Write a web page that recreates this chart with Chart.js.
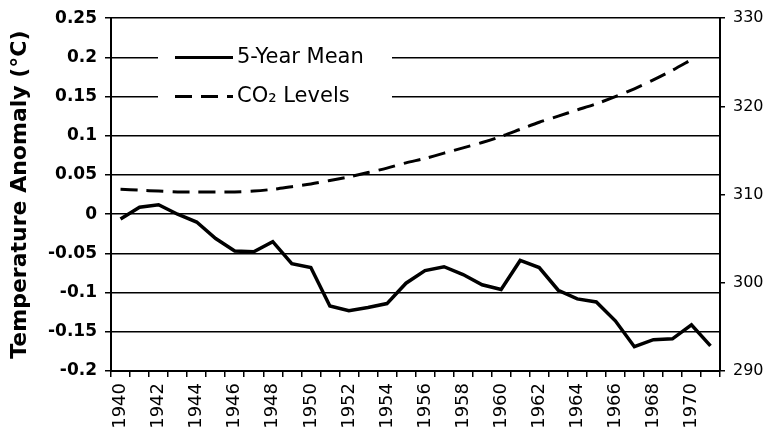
<!DOCTYPE html>
<html>
<head>
<meta charset="utf-8">
<title>Temperature anomaly and CO2</title>
<script src="https://cdn.jsdelivr.net/npm/chart.js@4.4.0/dist/chart.umd.min.js"></script>
<style>
    html, body { margin: 0; padding: 0; background: #fff; }
    #wrap { width: 770px; height: 443px; }
</style>
</head>
<body>
<div id="wrap"><canvas id="chart"></canvas></div>
<script>
// Data
const years = ['1940', '1941', '1942', '1943', '1944', '1945', '1946', '1947', '1948', '1949',
    '1950', '1951', '1952', '1953', '1954', '1955', '1956', '1957', '1958', '1959',
    '1960', '1961', '1962', '1963', '1964', '1965', '1966', '1967', '1968', '1969',
    '1970', '1971'];

const fiveYearMean = [-0.006, 0.009, 0.012, 0.0, -0.010, -0.031, -0.047, -0.048, -0.035, -0.063,
    -0.068, -0.117, -0.123, -0.119, -0.114, -0.088, -0.072, -0.067, -0.077, -0.090,
    -0.096, -0.059, -0.068, -0.097, -0.108, -0.112, -0.136, -0.169, -0.160, -0.159,
    -0.141, -0.168];

const co2Levels = [310.6, 310.5, 310.4, 310.3, 310.3, 310.3, 310.3, 310.4, 310.6, 310.9,
    311.2, 311.6, 312.0, 312.5, 313.0, 313.6, 314.1, 314.7, 315.3, 315.9,
    316.6, 317.4, 318.2, 318.9, 319.6, 320.3, 321.1, 322.0, 323.0, 324.1,
    325.3, null];

const tempTicks = ['-0.2', '-0.15', '-0.1', '-0.05', '0', '0.05', '0.1', '0.15', '0.2', '0.25'];
const co2Ticks = ['290', '300', '310', '320', '330'];

const FONT = "'DejaVu Sans', sans-serif";

// Legend drawn inside the plot, on a white patch over the grid lines
const insideLegend = {
    id: 'insideLegend',
    afterDatasetsDraw(chart) {
        const ctx = chart.ctx;
        const yScale = chart.scales.y;
        const rows = [yScale.getPixelForValue(0.2), yScale.getPixelForValue(0.15)];
        ctx.save();
        ctx.fillStyle = '#fff';
        ctx.fillRect(158, rows[0] - 14, 234, rows[1] - rows[0] + 28);
        chart.data.datasets.forEach((ds, i) => {
            const y = rows[i];
            ctx.strokeStyle = ds.borderColor;
            ctx.lineWidth = 3;
            ctx.setLineDash(ds.borderDash || []);
            ctx.beginPath();
            ctx.moveTo(175, y);
            ctx.lineTo(233, y);
            ctx.stroke();
            ctx.setLineDash([]);
            ctx.fillStyle = '#000';
            ctx.font = '21px ' + FONT;
            ctx.textBaseline = 'middle';
            ctx.textAlign = 'left';
            ctx.fillText(ds.label, 237, y);
        });
        ctx.restore();
    }
};

new Chart(document.getElementById('chart'), {
    type: 'line',
    data: {
        labels: years,
        datasets: [
            {
                label: '5-Year Mean',
                data: fiveYearMean,
                yAxisID: 'y',
                borderColor: '#000',
                borderWidth: 3.5,
                pointRadius: 0,
                tension: 0,
                fill: false
            },
            {
                label: 'CO₂ Levels',
                data: co2Levels,
                yAxisID: 'y2',
                borderColor: '#000',
                borderWidth: 3,
                borderDash: [17, 9],
                pointRadius: 0,
                tension: 0.3,
                fill: false
            }
        ]
    },
    options: {
        responsive: true,
        maintainAspectRatio: false,
        animation: false,
        layout: {
            padding: { top: 15, left: 0, right: 0, bottom: 0 }
        },
        scales: {
            x: {
                type: 'category',
                offset: true,
                afterFit: (scale) => { scale.height = 72; },
                grid: {
                    offset: true,
                    drawOnChartArea: false,
                    color: '#000',
                    lineWidth: 1.5,
                    tickLength: 6
                },
                border: { color: '#000', width: 2 },
                ticks: {
                    autoSkip: false,
                    maxRotation: 90,
                    minRotation: 90,
                    padding: 6,
                    color: '#000',
                    font: { family: FONT, size: 18 },
                    callback: (value, index) => (index % 2 === 0 && index < 31) ? years[index] : ''
                }
            },
            y: {
                position: 'left',
                min: -0.2,
                max: 0.25,
                afterFit: (scale) => { scale.width = 111; },
                afterBuildTicks: (scale) => {
                    scale.ticks = tempTicks.map(t => ({ value: parseFloat(t) }));
                },
                grid: {
                    color: '#000',
                    lineWidth: 1.5,
                    tickLength: 6
                },
                border: { color: '#000', width: 2 },
                ticks: {
                    padding: 8,
                    color: '#000',
                    font: { family: FONT, size: 17, weight: 'bold' },
                    callback: (value, index) => tempTicks[index]
                },
                title: {
                    display: true,
                    text: 'Temperature Anomaly (°C)',
                    color: '#000',
                    padding: { top: 7, bottom: 0 },
                    font: { family: FONT, size: 22, weight: 'bold' }
                }
            },
            y2: {
                position: 'right',
                min: 290,
                max: 330,
                afterFit: (scale) => { scale.width = 50; },
                afterBuildTicks: (scale) => {
                    scale.ticks = co2Ticks.map(t => ({ value: parseFloat(t) }));
                },
                grid: {
                    drawOnChartArea: false,
                    color: '#000',
                    lineWidth: 1.5,
                    tickLength: 5
                },
                border: { color: '#000', width: 2 },
                ticks: {
                    padding: 8,
                    color: '#000',
                    font: { family: FONT, size: 16 },
                    callback: (value, index) => co2Ticks[index]
                }
            }
        },
        plugins: {
            legend: { display: false },
            tooltip: { enabled: false }
        }
    },
    plugins: [insideLegend]
});
</script>
</body>
</html>
